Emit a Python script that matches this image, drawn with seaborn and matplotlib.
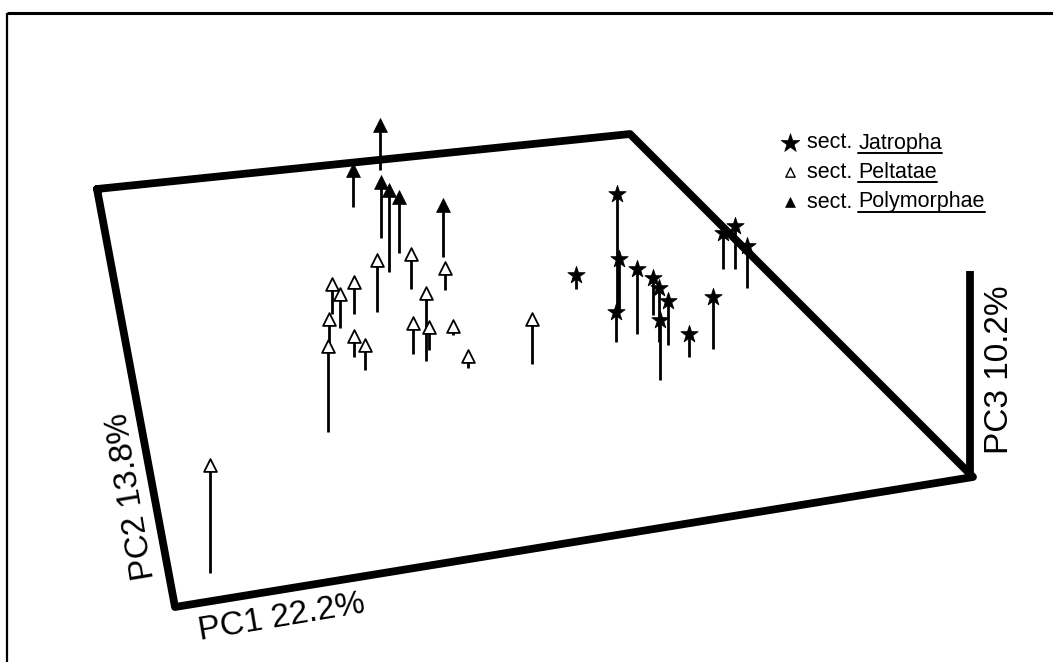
import matplotlib
matplotlib.use("Agg")
import matplotlib.pyplot as plt
import seaborn as sns
import pandas as pd
import numpy as np

sns.set_theme(style="white")
plt.rcParams['font.family'] = ['Liberation Sans', 'DejaVu Sans']

# Projected positions (x, marker y, stem base y), in projected plot units
jatropha_x    = [617, 619, 616, 576, 637, 653, 659, 668, 660, 689, 713, 723, 735, 747]
jatropha_top  = [194, 259, 312, 275, 269, 278, 288, 301, 320, 334, 297, 233, 226, 246]
jatropha_base = [312, 312, 342, 289, 334, 315, 342, 345, 380, 357, 349, 269, 269, 288]

peltatae_x    = [377, 411, 445, 332, 340, 354, 329, 328, 354, 365, 413, 426, 429, 453, 468, 532, 210]
peltatae_top  = [260, 254, 268, 284, 294, 282, 319, 346, 336, 345, 323, 293, 327, 326, 356, 319, 465]
peltatae_base = [312, 289, 290, 314, 328, 314, 343, 432, 357, 370, 354, 361, 350, 335, 368, 364, 573]

polymorphae_x    = [380, 353, 381, 389, 399, 443]
polymorphae_top  = [125, 170, 182, 190, 197, 205]
polymorphae_base = [170, 207, 238, 272, 253, 257]

# Projected cube frame (PC1 x PC2 plane) and PC3 axis
plane_x = [97, 630, 973, 175, 97]
plane_y = [189, 134, 477, 607, 189]
pc3_x = [970, 970]
pc3_y = [271, 478]

sections = ["Jatropha", "Peltatae", "Polymorphae"]
axis_labels = ["PC1 22.2%", "PC2 13.8%", "PC3 10.2%"]

df = pd.concat([
    pd.DataFrame({"x": jatropha_x, "top": jatropha_top, "base": jatropha_base, "section": "Jatropha"}),
    pd.DataFrame({"x": peltatae_x, "top": peltatae_top, "base": peltatae_base, "section": "Peltatae"}),
    pd.DataFrame({"x": polymorphae_x, "top": polymorphae_top, "base": polymorphae_base, "section": "Polymorphae"}),
], ignore_index=True)

W, H = 1053, 662
fig = plt.figure(figsize=(W / 100, H / 100), dpi=100)
fig.patch.set_facecolor("white")
ax = fig.add_axes([0, 0, 1, 1])
ax.set_xlim(0, W)
ax.set_ylim(H, 0)
ax.axis("off")

# outer border (top and left)
ax.plot([7, W], [13, 13], color="black", lw=2.2, solid_capstyle="butt")
ax.plot([7, 7], [13, H], color="black", lw=1.6, solid_capstyle="butt")

# plane frame
ax.plot(plane_x, plane_y, color="black", lw=5.6, solid_joinstyle="round", zorder=2)
ax.plot(pc3_x, pc3_y, color="black", lw=5.6, solid_capstyle="butt", zorder=2)

# stems
ax.vlines(df["x"], df["base"], df["top"], color="black", lw=2.0, zorder=3)

styles = {
    "Jatropha": dict(marker="*", s=170, color="black", edgecolor="black", linewidth=0.6),
    "Peltatae": dict(marker="^", s=85, color="white", edgecolor="black", linewidth=1.3),
    "Polymorphae": dict(marker="^", s=100, color="black", edgecolor="black", linewidth=0.5),
}
for sec in sections:
    sub = df[df["section"] == sec]
    sns.scatterplot(data=sub, x="x", y="top", ax=ax, legend=False, zorder=4, **styles[sec])
ax.set_xlim(0, W)
ax.set_ylim(H, 0)
ax.axis("off")

# legend
legend_y = [143, 172, 202]
legend_style = [
    dict(marker="*", s=200, color="black", edgecolor="black", linewidth=0.5),
    dict(marker="^", s=45, color="white", edgecolor="black", linewidth=1.0),
    dict(marker="^", s=50, color="black", edgecolor="black", linewidth=0.5),
]
fig.canvas.draw()
renderer = fig.canvas.get_renderer()
inv = ax.transData.inverted()
for sec, ly, st in zip(sections, legend_y, legend_style):
    ax.scatter([790], [ly], zorder=5, **st)
    t1 = ax.text(807, ly, "sect. ", fontsize=15.5, va="center", ha="left", color="black")
    bb = t1.get_window_extent(renderer)
    x_end = inv.transform((bb.x1, bb.y0))[0]
    t2 = ax.text(x_end, ly, sec, fontsize=15.5, va="center", ha="left", color="black")
    bb2 = t2.get_window_extent(renderer)
    (x0, yb), (x1, _) = inv.transform((bb2.x0, bb2.y0)), inv.transform((bb2.x1, bb2.y0))
    ax.plot([x0, x1], [yb - 1, yb - 1], color="black", lw=1.4)

# axis labels
ax.text(282, 618, axis_labels[0], fontsize=24, rotation=9.5, ha="center", va="center",
        rotation_mode="anchor", color="black")
ax.text(132, 496, axis_labels[1], fontsize=24, rotation=99.5, ha="center", va="center",
        rotation_mode="anchor", color="black")
ax.text(1000, 370, axis_labels[2], fontsize=24, rotation=90, ha="center", va="center",
        rotation_mode="anchor", color="black")

fig.savefig("out.png", dpi=100, facecolor="white")
